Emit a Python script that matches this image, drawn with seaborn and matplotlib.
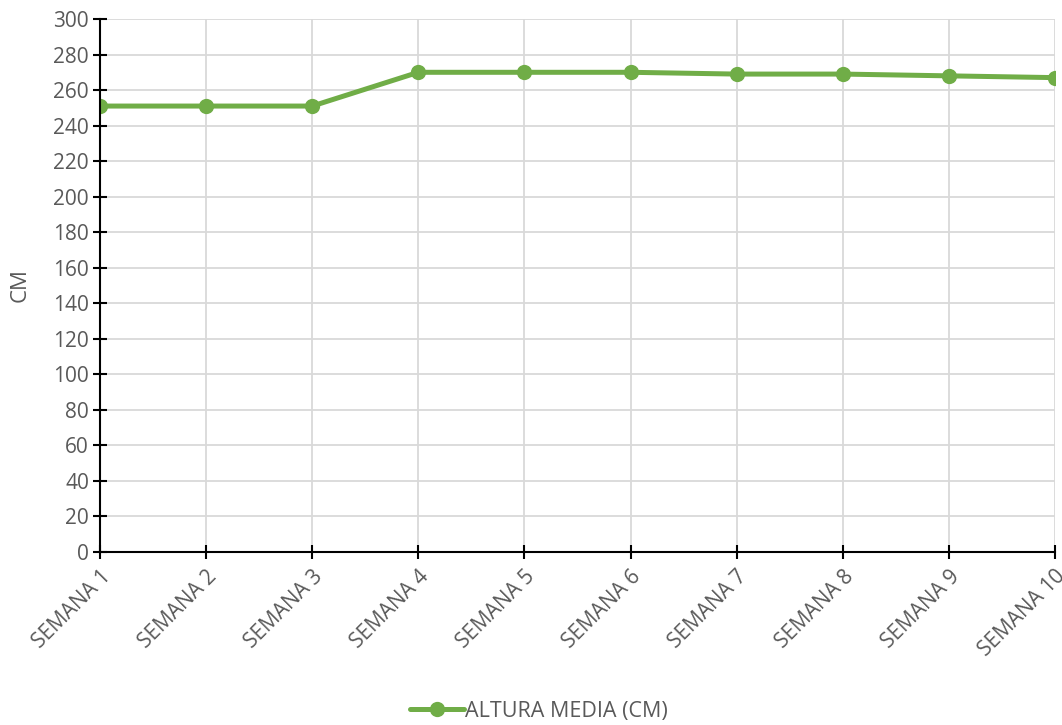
import pandas as pd
import matplotlib.pyplot as plt
import seaborn as sns

# === DATA ===
semanas = ["SEMANA 1", "SEMANA 2", "SEMANA 3", "SEMANA 4", "SEMANA 5",
           "SEMANA 6", "SEMANA 7", "SEMANA 8", "SEMANA 9", "SEMANA 10"]
altura = [251, 251, 251, 270, 270, 270, 269, 269, 268, 267]
serie = "ALTURA MEDIA (CM)"
y_ticks = list(range(0, 301, 20))

GREEN = "#70AD47"
TEXT = "#595959"
GRID = "#D9D9D9"

df = pd.DataFrame({"semana": semanas, "altura": altura})
df["pos"] = range(len(df))

sns.set_theme(style="white")
plt.rcParams["font.family"] = ["Open Sans", "DejaVu Sans"]

fig = plt.figure(figsize=(10.62, 7.25), dpi=100)
ax = fig.add_axes([0.0942, 0.2386, 0.8992, 0.7352])

sns.lineplot(data=df, x="pos", y="altura", ax=ax, color=GREEN, linewidth=3.6,
             marker="o", markersize=11, markeredgewidth=0, label=serie)

ax.set_xlim(0, len(semanas) - 1)
ax.set_ylim(0, 300)
ax.set_xticks(df["pos"])
ax.set_xticklabels(semanas, rotation=45, ha="right", rotation_mode="anchor",
                   fontsize=15, color=TEXT)
ax.set_yticks(y_ticks)
ax.set_yticklabels([str(v) for v in y_ticks], fontsize=15, color=TEXT)
ax.tick_params(axis="both", direction="inout", length=10, width=1.5,
               color="black", bottom=True, left=True, pad=3)
ax.tick_params(axis="x", pad=5)

ax.grid(True, color=GRID, linewidth=1.3)
ax.set_axisbelow(True)
for s in ["top", "right"]:
    ax.spines[s].set_visible(False)
for s in ["left", "bottom"]:
    ax.spines[s].set_color("black")
    ax.spines[s].set_linewidth(1.5)

ax.set_xlabel("")
ax.set_ylabel("CM", fontsize=16, color=TEXT, labelpad=16)

leg = ax.legend(loc="lower center", bbox_to_anchor=(0.46, -0.355), frameon=False,
                fontsize=15.5, handlelength=2.5, handletextpad=0.05)
for t in leg.get_texts():
    t.set_color(TEXT)

fig.savefig("out.png", dpi=100, facecolor="white")
